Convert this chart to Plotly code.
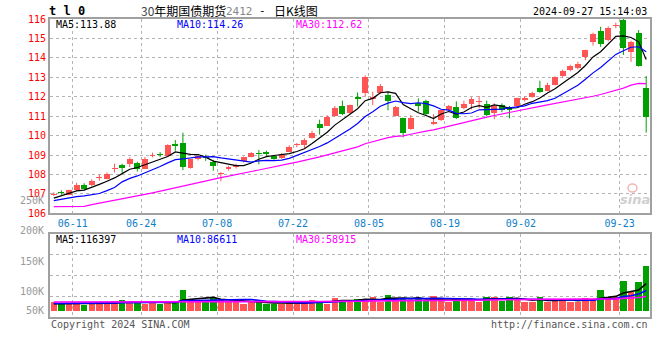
import plotly.graph_objects as go

# ---------------- data ----------------
dates = ["06-06", "06-07", "06-11", "06-12", "06-13", "06-14", "06-17", "06-18", "06-19", "06-20",
         "06-21", "06-24", "06-25", "06-26", "06-27", "06-28",
         "07-01", "07-02", "07-03", "07-04", "07-05", "07-08", "07-09", "07-10", "07-11", "07-12",
         "07-15", "07-16", "07-17", "07-18", "07-19", "07-22", "07-23", "07-24", "07-25", "07-26",
         "07-29", "07-30", "07-31",
         "08-01", "08-02", "08-05", "08-06", "08-07", "08-08", "08-09", "08-12", "08-13", "08-14",
         "08-15", "08-16", "08-19", "08-20", "08-21", "08-22", "08-23", "08-26", "08-27", "08-28",
         "08-29", "08-30",
         "09-02", "09-03", "09-04", "09-05", "09-06", "09-09", "09-10", "09-11", "09-12", "09-13",
         "09-18", "09-19", "09-20", "09-23", "09-24", "09-25", "09-26", "09-27"]

opens = [106.98, 107.10, 106.95, 107.20, 107.47, 107.44, 107.83, 107.78, 108.28, 108.50,
         108.55, 108.60, 108.30, 108.98, 109.03, 108.95,
         109.55, 109.63, 108.32, 108.78, 108.90, 108.66, 108.00, 108.28, 108.37, 108.67,
         108.91, 109.10, 109.16, 108.97, 108.83, 109.17, 109.50, 109.51, 109.86, 110.58,
         110.51, 111.00, 111.54,
         111.15, 111.97, 112.18, 111.87, 112.18, 112.09, 111.00, 110.89, 110.32, 111.69,
         111.80, 110.60, 110.80, 111.32, 111.49, 111.40, 111.63, 111.72, 111.63, 111.18,
         111.57, 111.45,
         111.52, 111.83, 111.97, 112.47, 112.30, 112.60, 113.08, 113.37, 113.46, 114.06,
         114.83, 115.40, 114.92, 115.66, 115.95, 114.32, 115.30, 112.47]
highs = [107.08, 107.18, 107.22, 107.57, 107.55, 107.75, 108.00, 108.10, 108.55, 108.55,
         108.88, 108.65, 108.90, 109.12, 109.15, 109.55,
         109.77, 110.15, 108.80, 109.05, 109.02, 108.75, 108.12, 108.45, 108.55, 108.92,
         109.15, 109.26, 109.22, 109.00, 109.10, 109.50, 109.62, 109.86, 110.25, 110.82,
         111.05, 111.52, 111.80,
         111.60, 112.22, 113.10, 112.26, 112.65, 112.26, 111.52, 110.92, 111.06, 111.92,
         111.85, 111.10, 111.35, 111.58, 111.76, 111.80, 111.97, 112.04, 111.80, 111.66,
         111.66, 111.52,
         111.95, 112.03, 112.25, 112.82, 112.72, 113.05, 113.40, 113.65, 113.80, 114.42,
         115.30, 115.60, 115.62, 115.81, 116.08, 114.88, 115.43, 113.07]
lows = [106.90, 106.95, 106.93, 107.15, 107.20, 107.40, 107.68, 107.75, 108.10, 108.08,
        108.38, 108.15, 108.28, 108.88, 108.90, 108.93,
        109.22, 108.22, 108.30, 108.72, 108.70, 108.19, 107.65, 108.20, 108.30, 108.62,
        108.88, 108.52, 108.95, 108.75, 108.80, 109.15, 109.40, 109.35, 109.85, 110.05,
        110.50, 110.98, 111.05,
        111.12, 111.50, 112.00, 111.57, 112.15, 111.30, 110.98, 109.91, 110.30, 111.23,
        111.05, 110.55, 110.75, 111.30, 110.85, 111.35, 111.35, 111.40, 111.00, 110.84,
        111.20, 110.89,
        111.50, 111.75, 111.95, 112.20, 112.28, 112.58, 112.98, 113.30, 113.40, 113.88,
        114.63, 114.57, 114.85, 115.52, 114.15, 113.80, 113.55, 110.15]
closes = [107.00, 107.05, 107.20, 107.47, 107.25, 107.66, 107.86, 108.02, 108.32, 108.35,
          108.80, 108.30, 108.78, 109.02, 109.00, 109.52,
          109.47, 108.40, 108.78, 108.95, 108.86, 108.43, 108.06, 108.40, 108.50, 108.88,
          109.09, 109.05, 109.05, 108.80, 109.07, 109.40, 109.58, 109.76, 110.15, 110.41,
          110.97, 111.40, 111.10,
          111.57, 111.88, 113.03, 112.00, 112.55, 111.80, 111.49, 110.15, 110.89, 111.54,
          111.10, 110.71, 111.32, 111.52, 110.89, 111.63, 111.87, 111.80, 111.06, 111.54,
          111.32, 111.32,
          111.92, 111.95, 112.21, 112.26, 112.60, 113.03, 113.34, 113.58, 113.68, 114.40,
          115.23, 114.70, 115.52, 115.70, 114.49, 114.83, 113.58, 110.97]
volumes = [37300, 34300, 34300, 30000, 25700, 28700, 37300, 28700, 41600, 45900,
           37300, 37300, 28700, 37300, 28700, 37300,
           37300, 90100, 50200, 45900, 45900, 54500, 50200, 37300, 37300, 28700,
           37300, 41600, 28700, 28700, 28700, 37300, 28700, 37300, 45900, 41600,
           28700, 54500, 46500,
           41600, 50200, 51500, 58800, 37300, 68600, 54500, 54500, 44600, 54500,
           44600, 64400, 50200, 37300, 54500, 50200, 50200, 37300, 58800, 58800,
           42900, 58800,
           47200, 37300, 37300, 58800, 37300, 50200, 50200, 37300, 37300, 54500,
           50200, 88800, 54500, 58800, 127400, 80200, 123100, 193100]

# moving-average values before enough in-window history exists
ma5_lead = [106.78, 106.90, 107.02, 107.15]
ma10_lead = [106.65, 106.72, 106.80, 106.86, 106.90, 106.95, 107.02, 107.17, 107.33]
ma30_lead = [106.34, 106.34, 106.34, 106.34, 106.36, 106.45, 106.52, 106.60, 106.67, 106.74,
             106.82, 106.90, 106.97, 107.05, 107.14, 107.23, 107.33, 107.42, 107.51, 107.60,
             107.68, 107.76, 107.84, 107.91, 107.98, 108.08, 108.15, 108.23, 108.32]
vol_ma5_lead = [30000, 30000, 30500, 31500]
vol_ma10_lead = [31000, 31000, 31500, 31500, 32000, 32000, 32500, 33000, 33500]
vol_ma30_lead = [37500, 37500, 37500, 37000, 36500, 36500, 36500, 36500, 36500, 36500,
                 36500, 36500, 36500, 36500, 36500, 37000, 37000, 37000, 37000, 37000,
                 37000, 37000, 37500, 38000, 38000, 38000, 38000, 38000, 38500]

tick_dates = ["06-11", "06-24", "07-08", "07-22", "08-05", "08-19", "09-02", "09-23"]
price_ticks = [106, 107, 108, 109, 110, 111, 112, 113, 114, 115, 116]
vol_axis_labels = ["250K", "200K", "150K", "100K", "50K"]
price_legend = [("MA5", "113.88"), ("MA10", "114.26"), ("MA30", "112.62")]
vol_legend = [("MA5", "116397"), ("MA10", "86611"), ("MA30", "58915")]
symbol = "t l 0"
title_num, title_name, title_code, title_tail = "30", "年期国债期货", "2412", "日K线图"
timestamp = "2024-09-27 15:14:03"

# ---------------- helpers ----------------
def moving_avg(vals, n, lead):
    return list(lead) + [sum(vals[i - n + 1:i + 1]) / n for i in range(n - 1, len(vals))]

idx = list(range(len(dates)))
ma5 = moving_avg(closes, 5, ma5_lead)
ma10 = moving_avg(closes, 10, ma10_lead)
ma30 = moving_avg(closes, 30, ma30_lead)
vma5 = moving_avg(volumes, 5, vol_ma5_lead)
vma10 = moving_avg(volumes, 10, vol_ma10_lead)
vma30 = moving_avg(volumes, 30, vol_ma30_lead)

UP, DOWN = "#ff5555", "#00a000"
MONO = "DejaVu Sans Mono"
CJK = "Noto Sans CJK SC"

# page geometry (pixels in the browser window); body margin is removed by the post script
PLOT_L, PLOT_R, PLOT_T, PLOT_B = 50, 650, 19, 317
W_FIG, H_FIG = 660, 360
ML, MT = PLOT_L, PLOT_T
MR, MB = W_FIG - PLOT_R, H_FIG - PLOT_B
PW, PH = PLOT_R - PLOT_L, PLOT_B - PLOT_T
PRICE_BOTTOM_PX, VOL_TOP_PX = 213.3, 234.0
VOL_BASE_PX, VOL_PER_PX = 310.7, 4290.0


def px_x(x):
    return (x - PLOT_L) / PW


def px_y(y):
    return (PLOT_B - y) / PH


up = [c >= o for o, c in zip(opens, closes)]
body_base, body_h = [], []
for o, c in zip(opens, closes):
    h = abs(c - o)
    if h < 0.05:
        body_base.append((o + c) / 2 - 0.025)
        body_h.append(0.05)
    else:
        body_base.append(min(o, c))
        body_h.append(h)

fig = go.Figure()

# wicks
for flag, col in ((True, UP), (False, DOWN)):
    xs, ys = [], []
    for i in idx:
        if up[i] == flag:
            xs += [i, i, None]
            ys += [lows[i], highs[i], None]
    fig.add_trace(go.Scatter(x=xs, y=ys, mode="lines", line=dict(color=col, width=1),
                             hoverinfo="skip", showlegend=False, xaxis="x", yaxis="y"))

# bodies
fig.add_trace(go.Bar(x=idx, y=body_h, base=body_base, width=0.78,
                     marker=dict(color=[UP if u else DOWN for u in up], line=dict(width=0)),
                     showlegend=False, xaxis="x", yaxis="y"))

for vals, col in ((ma5, "#000000"), (ma10, "#0000ff"), (ma30, "#ff00ff")):
    fig.add_trace(go.Scatter(x=idx, y=vals, mode="lines", line=dict(color=col, width=1.2),
                             showlegend=False, hoverinfo="skip", xaxis="x", yaxis="y"))

# volume
fig.add_trace(go.Bar(x=idx, y=volumes, width=0.86,
                     marker=dict(color=[UP if u else DOWN for u in up], line=dict(width=0)),
                     showlegend=False, xaxis="x2", yaxis="y2"))
for vals, col in ((vma5, "#000000"), (vma10, "#0000ff"), (vma30, "#ff00ff")):
    fig.add_trace(go.Scatter(x=idx, y=vals, mode="lines", line=dict(color=col, width=1.6),
                             showlegend=False, hoverinfo="skip", xaxis="x2", yaxis="y2"))

tickpos = [dates.index(d) + 0.5 for d in tick_dates]
xr = [-0.5, len(dates) - 0.5]
GRID = "#b4b4b4"
BORDER = "#a0a0a0"

vol_lo = -(PLOT_B - VOL_BASE_PX) * VOL_PER_PX
vol_hi = (VOL_BASE_PX - VOL_TOP_PX) * VOL_PER_PX
vol_grid = [(VOL_BASE_PX - y) * VOL_PER_PX for y in (254.7, 275.3, 296.0)]

price_dom0 = px_y(PRICE_BOTTOM_PX)
vol_dom1 = px_y(VOL_TOP_PX)

fig.update_layout(
    width=W_FIG, height=H_FIG,
    margin=dict(l=ML, r=MR, t=MT, b=MB, autoexpand=False),
    paper_bgcolor="white", plot_bgcolor="white",
    barmode="overlay", bargap=0,
    showlegend=False, hovermode=False,
    xaxis=dict(domain=[0, 1], range=xr, tickvals=tickpos, ticktext=tick_dates,
               tickfont=dict(family=MONO, size=10, color="#0f80c8"), ticks="",
               showgrid=True, gridcolor=GRID, griddash="dot", gridwidth=1,
               showline=True, mirror=True, linecolor=BORDER, linewidth=2,
               zeroline=False, anchor="y", fixedrange=True),
    yaxis=dict(domain=[price_dom0, 1], range=[106, 116], tickvals=price_ticks,
               ticktext=[str(t) for t in price_ticks],
               tickfont=dict(family=MONO, size=10, color="#ff0000"), ticks="",
               showgrid=True, gridcolor=GRID, griddash="dot", gridwidth=1,
               showline=True, mirror=True, linecolor=BORDER, linewidth=2,
               zeroline=False, anchor="x"),
    xaxis2=dict(domain=[0, 1], range=xr, tickvals=tickpos, showticklabels=False, ticks="",
                showgrid=True, gridcolor=GRID, griddash="dot", gridwidth=1,
                showline=True, mirror=True, linecolor=BORDER, linewidth=2,
                zeroline=False, anchor="y2"),
    yaxis2=dict(domain=[0, vol_dom1], range=[vol_lo, vol_hi], tickvals=vol_grid,
                showticklabels=False, ticks="",
                showgrid=True, gridcolor=GRID, griddash="dot", gridwidth=1,
                showline=True, mirror=True, linecolor=BORDER, linewidth=2,
                zeroline=False, anchor="x2"),
)

ann = []


def add_text(text, x, y, color="#000000", size=10, family=MONO, xanchor="left"):
    ann.append(dict(text=text, x=px_x(x), y=px_y(y), xref="paper", yref="paper",
                    xanchor=xanchor, yanchor="middle", showarrow=False,
                    font=dict(family=family, size=size, color=color)))


# header
add_text("<b>" + symbol + "</b>", 47, 10.5, size=12)
add_text('<span style="color:#444">' + title_num + '</span>' + title_name, 139, 10.5,
         size=12, family=CJK)
add_text(title_code, 224, 11, color="#888888", size=11)
add_text("-", 257, 10.5, size=11)
add_text(title_tail, 272, 10.5, size=12, family=CJK)
add_text(timestamp, 649, 11.5, xanchor="right")

# legends
leg_x = [54, 175, 294]
leg_col = ["#000000", "#0000ff", "#ff00ff"]
for (name, val), x, c in zip(price_legend, leg_x, leg_col):
    add_text(name + ":" + val, x, 25, color=c)
for (name, val), x, c in zip(vol_legend, leg_x, leg_col):
    add_text(name + ":" + val, x, 239, color=c)

# volume axis labels (drawn where the reference shows them)
for t, y in zip(vol_axis_labels, [200.5, 230.7, 261.0, 291.0, 310.7]):
    add_text(t, 46, y, color="#999999", xanchor="right")

# footer
add_text("Copyright 2024 SINA.COM", 49, 324, color="#555555")
add_text("http://finance.sina.com.cn", 650, 324, color="#555555", xanchor="right")

# sina watermark
add_text("<b><i>sina</i></b>", 635, 199, color="#cfcfcf", size=13, family="DejaVu Sans",
         xanchor="center")
fig.add_shape(type="circle", xref="paper", yref="paper",
              x0=px_x(628), x1=px_x(637), y0=px_y(192), y1=px_y(184),
              line=dict(color="#f2b8b8", width=1.5), fillcolor="rgba(0,0,0,0)")

fig.update_layout(annotations=ann)
fig.write_html("out.html", config={"displayModeBar": False, "staticPlot": True},
               post_script="document.body.style.margin='0';document.body.style.overflow='hidden';")
